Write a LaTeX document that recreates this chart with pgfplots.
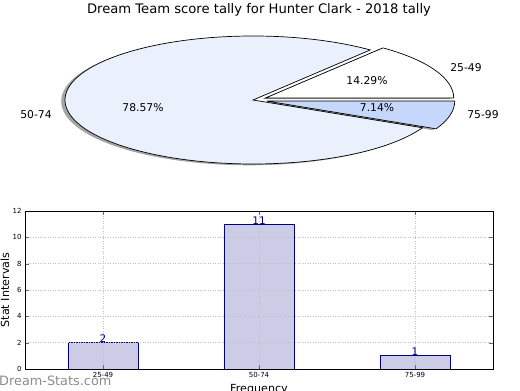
\documentclass[border=0pt]{standalone}
\usepackage{pgfplots}
\pgfplotsset{compat=1.18}
\usepackage{fontspec}
\setmainfont{DejaVu Sans}
\definecolor{pieA}{HTML}{FFFFFF}
\definecolor{pieB}{HTML}{EAF1FD}
\definecolor{pieC}{HTML}{C5D8FC}
\definecolor{barfill}{HTML}{CCCCE6}
\definecolor{baredge}{HTML}{000080}
\begin{document}
\begin{tikzpicture}[x=1bp,y=1bp]
\useasboundingbox (0,0) rectangle (520,390);
\node[anchor=west, inner sep=0, text=black!45, font=\fontsize{12.9}{14}\selectfont] at (-1,9) {Dream-Stats.com};
% ---------- pie (values 2, 11, 1 of 14) ----------
\begin{axis}[at={(0,0)}, anchor=south west, scale only axis, width=520bp, height=390bp,
  xmin=0, xmax=520, ymin=0, ymax=390, hide axis, clip=false]
% shadows
\fill[black!70, opacity=0.5] (axis cs:249.2,288.7) -- (axis cs:366.42,338.74)
  arc[start angle=51.4286, end angle=334.2857, x radius=188, y radius=64] -- cycle;
\fill[black!70, opacity=0.5] (axis cs:261.9,290.78) -- (axis cs:449.9,290.78)
  arc[start angle=0, end angle=51.4286, x radius=188, y radius=64] -- cycle;
\fill[black!70, opacity=0.5] (axis cs:262.95,287.63) -- (axis cs:432.33,259.86)
  arc[start angle=334.2857, end angle=360, x radius=188, y radius=64] -- cycle;
% wedges
\filldraw[fill=pieB, draw=black, line width=0.7bp] (axis cs:253,290) -- (axis cs:370.22,340.04)
  arc[start angle=51.4286, end angle=334.2857, x radius=188, y radius=64] -- cycle;
\filldraw[fill=pieA, draw=black, line width=0.7bp] (axis cs:265.7,292.08) -- (axis cs:453.7,292.08)
  arc[start angle=0, end angle=51.4286, x radius=188, y radius=64] -- cycle;
\filldraw[fill=pieC, draw=black, line width=0.7bp] (axis cs:266.75,288.93) -- (axis cs:436.13,261.16)
  arc[start angle=334.2857, end angle=360, x radius=188, y radius=64] -- cycle;
% labels
\begin{scope}[every node/.style={font=\fontsize{10.8}{12}\selectfont, inner sep=0}]
\node at (axis cs:466,322) {25-49};
\node at (axis cs:367,309) {14.29\%};
\node at (axis cs:483,275) {75-99};
\node at (axis cs:377,282) {7.14\%};
\node at (axis cs:36,275) {50-74};
\node at (axis cs:143,282) {78.57\%};
\end{scope}
\node[font=\fontsize{13.2}{15}\selectfont, inner sep=0] at (axis cs:259,380) {Dream Team score tally for Hunter Clark - 2018 tally};
\end{axis}
% ---------- bars ----------
\begin{axis}[at={(25bp,21bp)}, anchor=south west, scale only axis, width=468bp, height=158bp,
  xmin=-0.5, xmax=2.5, ymin=0, ymax=12,
  ytick={0,2,4,6,8,10,12}, xtick={0,1,2}, xticklabels={25-49,50-74,75-99},
  tick align=inside, major tick length=4bp, tick style={black!60},
  grid=major, major grid style={black!25, dash pattern=on 1bp off 1.5bp},
  axis on top, axis line style={line width=0.8bp},
  ticklabel style={font=\fontsize{7}{8}\selectfont},
  /pgf/number format/assume math mode=true,
  label style={font=\fontsize{11.2}{13}\selectfont},
  ylabel={Stat Intervals}, xlabel={Frequency},
  ylabel style={at={(axis description cs:-0.043,0.5)}, anchor=center},
  xlabel style={at={(axis description cs:0.5,-0.095)}, anchor=north, inner sep=0},
]
\addplot[ybar, bar width=0.45, fill=barfill, draw=baredge, line width=0.8bp,
  nodes near coords, nodes near coords style={text=baredge, anchor=base, inner sep=0, font=\fontsize{10.5}{12}\selectfont}]
  coordinates {(0,2) (1,11) (2,1)};
\end{axis}
\end{tikzpicture}
\end{document}
